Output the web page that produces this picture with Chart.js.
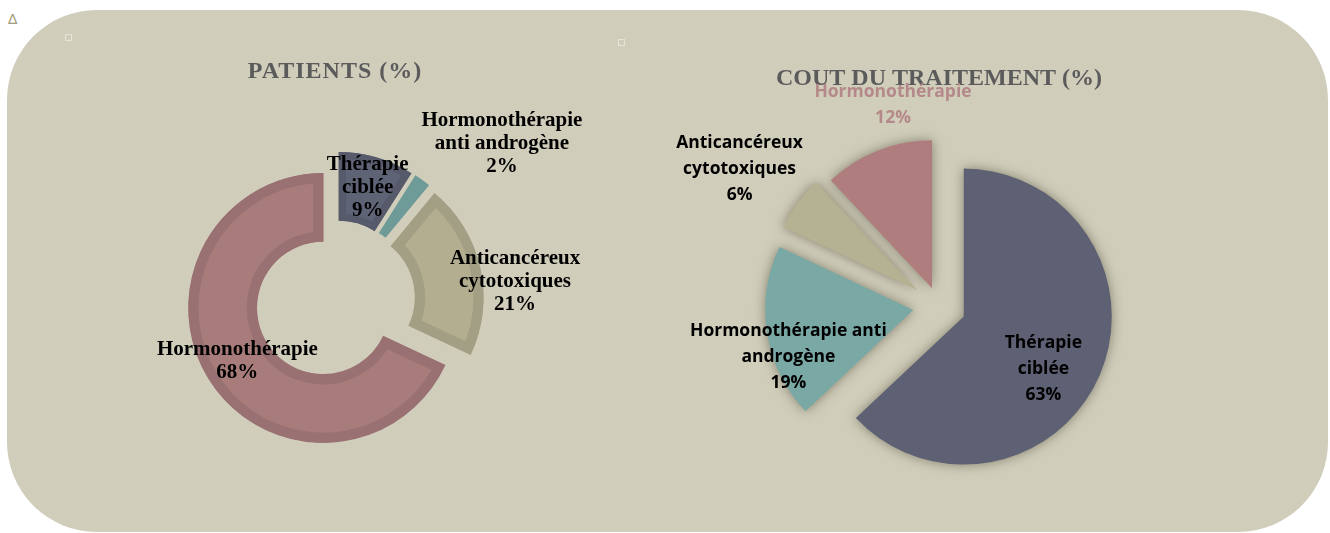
<!DOCTYPE html>
<html>
<head>
<meta charset="utf-8">
<script src="https://cdn.jsdelivr.net/npm/chart.js@4.4.1/dist/chart.umd.min.js"></script>
<style>
  body { margin: 0; background: #fff; width: 1330px; height: 533px; overflow: hidden; position: relative; }
  #panel { position: absolute; left: 7px; top: 10px; width: 1321px; height: 522px; border-radius: 90px; background: #d0cdbb; }
  .handle { position: absolute; width: 5px; height: 5px; border: 1px solid #e6e4d8; }
  #mark { position: absolute; left: 8px; top: 11px; font: italic 14px "DejaVu Sans"; color: #a39e80; }
  canvas { position: absolute; }
</style>
</head>
<body>
<div id="panel"></div>
<div id="mark">∆</div>
<div class="handle" style="left:65px;top:34px"></div>
<div class="handle" style="left:618px;top:39px"></div>
<canvas id="patients" width="510" height="465" style="left:80px;top:40px"></canvas>
<canvas id="cout" width="540" height="469" style="left:669px;top:40px"></canvas>
<script>
// data
var categories = ['Thérapie ciblée', 'Hormonothérapie anti androgène', 'Anticancéreux cytotoxiques', 'Hormonothérapie'];
var patientsPct = [9, 2, 21, 68];
var coutPct = [63, 19, 6, 12];

// how each label is broken into lines on the two charts
var patientsLines = [['Thérapie', 'ciblée'], ['Hormonothérapie', 'anti androgène'], ['Anticancéreux', 'cytotoxiques'], ['Hormonothérapie']];
var coutLines = [['Thérapie', 'ciblée'], ['Hormonothérapie anti', 'androgène'], ['Anticancéreux', 'cytotoxiques'], ['Hormonothérapie']];

// exploded slices: move the whole slice out, keep its radius
var arcDraw = Chart.ArcElement.prototype.draw;
Chart.ArcElement.prototype.draw = function (ctx) {
    var shift = this.options.offset || 0;
    var mid = (this.startAngle + this.endAngle) / 2;
    var flat = Object.create(this);
    flat.options = Object.assign({}, this.options, { offset: 0 });
    ctx.save();
    ctx.translate(Math.cos(mid) * shift, Math.sin(mid) * shift);
    arcDraw.call(flat, ctx);
    ctx.restore();
};

function sliceLabels(cfg) {
    return {
        id: 'sliceLabels',
        beforeDraw: function (chart) {
            chart.ctx.letterSpacing = cfg.titleSpacing || '0px';
        },
        beforeDatasetsDraw: function (chart) {
            var ctx = chart.ctx;
            ctx.letterSpacing = '0px';
            ctx.save();
            if (cfg.shadow) {
                ctx.shadowColor = cfg.shadow;
                ctx.shadowBlur = 12;
            }
        },
        afterDatasetsDraw: function (chart) {
            var ctx = chart.ctx;
            ctx.restore();
            var arcs = chart.getDatasetMeta(0).data;
            var values = chart.data.datasets[0].data;
            ctx.save();
            ctx.font = cfg.font;
            ctx.textAlign = 'center';
            ctx.textBaseline = 'middle';
            arcs.forEach(function (arc, i) {
                var a = (arc.startAngle + arc.endAngle) / 2 + cfg.shift[i] * Math.PI / 180;
                var x = arc.x + Math.cos(a) * cfg.dist[i];
                var y = arc.y + Math.sin(a) * cfg.dist[i];
                var lines = cfg.lines[i].concat(values[i] + '%');
                ctx.fillStyle = cfg.colors[i];
                lines.forEach(function (t, k) {
                    ctx.fillText(t, x, y + (k - (lines.length - 1) / 2) * cfg.lineHeight);
                });
            });
            ctx.restore();
        }
    };
}

new Chart(document.getElementById('patients'), {
    type: 'doughnut',
    data: {
        labels: categories,
        datasets: [{
            data: patientsPct,
            backgroundColor: ['#5f6376', '#6e9b97', '#b3ae8f', '#a97c7c'],
            borderColor: ['#565a6b', '#6e9b97', '#a39f84', '#9a7172'],
            borderWidth: [7, 0, 10, 10],
            borderAlign: 'inner',
            offset: 14
        }]
    },
    options: {
        responsive: false,
        animation: false,
        radius: 135,
        cutout: '49%',
        plugins: {
            legend: { display: false },
            tooltip: { enabled: false },
            title: {
                display: true,
                text: 'PATIENTS (%)',
                color: '#5b5b5b',
                font: { family: '"Liberation Serif"', size: 24, weight: 'bold' },
                padding: { top: 17, bottom: 10 }
            }
        }
    },
    plugins: [sliceLabels({
        lines: patientsLines,
        dist: [117, 229, 181, 115],
        shift: [0, 10.8, 6.6, 0.5],
        colors: ['#000', '#000', '#000', '#000'],
        font: 'bold 21px "Liberation Serif"',
        lineHeight: 23,
        titleSpacing: '1px'
    })]
});

new Chart(document.getElementById('cout'), {
    type: 'pie',
    data: {
        labels: categories,
        datasets: [{
            data: coutPct,
            backgroundColor: ['#5e6174', '#79a8a5', '#b5b193', '#b07d7e'],
            borderWidth: 0,
            offset: [27, 26, 27, 19]
        }]
    },
    options: {
        responsive: false,
        animation: false,
        radius: 148,
        plugins: {
            legend: { display: false },
            tooltip: { enabled: false },
            title: {
                display: true,
                text: 'COUT DU TRAITEMENT (%)',
                color: '#5b5b5b',
                font: { family: '"Liberation Serif"', size: 24, weight: 'bold' },
                padding: { top: 24, bottom: 10 }
            }
        }
    },
    plugins: [sliceLabels({
        lines: coutLines,
        dist: [122, 159, 242, 206],
        shift: [7.8, -9.7, -1.5, 8.7],
        colors: ['#000', '#000', '#000', '#b5898a'],
        font: 'bold 17.5px "Open Sans"',
        lineHeight: 26,
        shadow: 'rgba(70,65,45,0.55)'
    })]
});
</script>
</body>
</html>
